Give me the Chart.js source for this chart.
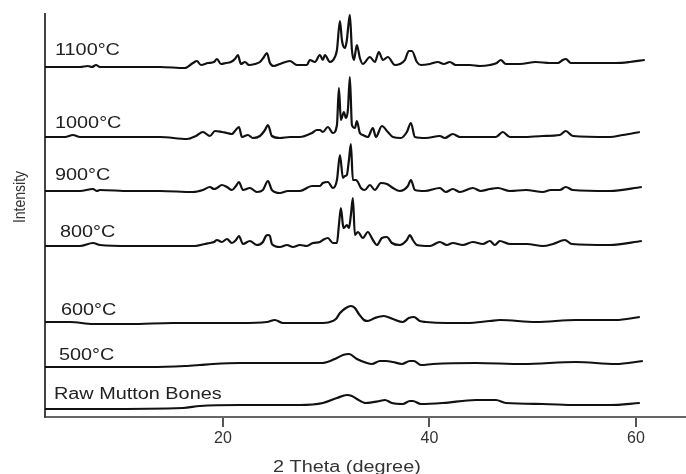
<!DOCTYPE html>
<html>
<head>
<meta charset="utf-8">
<script src="https://cdn.jsdelivr.net/npm/chart.js@4.4.1/dist/chart.umd.min.js"></script>
<style>
  html, body { margin: 0; padding: 0; background: #fff; }
  #wrap { width: 686px; height: 474px; }
</style>
</head>
<body>
<div id="wrap"><canvas id="xrdChart" width="686" height="474"></canvas></div>
<script>
// --- XRD patterns, 2 theta (degree) vs stacked intensity (a.u.) ---
const xTicks = [20, 40, 60];

const theta1100 = [2.77, 6.16, 6.93, 7.32, 7.71, 8.09, 11.0, 13.9, 16.32, 17.1, 17.48, 17.87, 18.55, 19.13, 19.42, 19.81, 20.29, 20.77, 21.16, 21.45, 21.74, 22.13, 22.52, 23.1, 23.58, 23.97, 24.26, 24.55, 24.94, 25.52, 26.49, 27.16, 28.13, 28.42, 28.91, 29.39, 29.68, 29.87, 30.36, 30.84, 31.04, 31.33, 31.52, 31.62, 31.81, 32.0, 32.1, 32.29, 32.49, 32.68, 32.97, 33.26, 33.55, 34.23, 34.71, 35.1, 35.49, 35.97, 36.65, 37.13, 37.62, 38.0, 38.3, 38.78, 39.17, 40.04, 40.81, 41.39, 41.97, 42.55, 43.91, 44.88, 45.85, 46.52, 46.91, 47.39, 48.75, 50.3, 51.66, 52.43, 52.91, 53.2, 53.69, 55.53, 58.04, 59.4, 60.85];
const int1100 = [350, 350, 351, 350, 352, 350, 350, 350, 349, 354, 356, 352, 354, 355, 358, 353, 354, 355, 358, 362, 353, 355, 352, 353, 355, 360, 364, 354, 351, 353, 356, 352, 352, 357, 355, 362, 357, 362, 355, 360, 367, 396, 377, 372, 369, 377, 387, 402, 367, 357, 372, 359, 353, 360, 355, 365, 357, 360, 352, 353, 357, 366, 366, 355, 352, 353, 355, 353, 355, 352, 352, 351, 352, 354, 357, 353, 353, 355, 354, 354, 357, 358, 354, 354, 354, 355, 357];

const theta1000 = [2.77, 4.71, 5.48, 6.16, 10.03, 13.9, 16.52, 17.39, 18.06, 18.74, 19.23, 19.9, 20.39, 20.87, 21.16, 21.55, 21.84, 22.42, 22.9, 23.58, 24.07, 24.36, 24.74, 25.52, 26.49, 27.45, 28.62, 29.1, 29.39, 29.68, 30.16, 30.65, 31.04, 31.23, 31.42, 31.71, 31.91, 32.1, 32.29, 32.49, 32.78, 32.97, 33.26, 33.55, 34.03, 34.52, 34.81, 35.39, 35.97, 36.46, 37.23, 37.81, 38.2, 38.59, 39.65, 41.0, 41.49, 42.26, 42.94, 46.43, 47.1, 47.78, 49.04, 50.98, 52.62, 53.2, 53.88, 57.46, 58.72, 60.37];
const int1000 = [280, 280, 282, 280, 280, 280, 278, 281, 285, 281, 286, 285, 284, 283, 286, 290, 280, 282, 279, 281, 287, 292, 281, 279, 280, 280, 284, 287, 287, 285, 290, 284, 292, 329, 297, 305, 299, 307, 340, 292, 289, 296, 284, 282, 280, 289, 280, 291, 285, 280, 279, 285, 294, 280, 279, 281, 279, 283, 280, 280, 285, 280, 280, 281, 282, 286, 281, 280, 282, 285];

const theta900 = [2.77, 6.16, 7.42, 7.8, 8.09, 11.0, 13.9, 17.1, 18.06, 18.74, 19.13, 19.42, 19.9, 20.39, 20.87, 21.26, 21.55, 21.94, 22.61, 23.29, 23.87, 24.36, 24.74, 25.52, 26.29, 27.45, 28.62, 29.39, 29.68, 30.16, 30.65, 31.04, 31.33, 31.62, 31.81, 32.0, 32.2, 32.39, 32.58, 32.87, 33.07, 33.36, 33.74, 34.23, 34.71, 35.29, 35.88, 36.46, 37.13, 37.91, 38.2, 38.59, 39.55, 41.0, 41.58, 42.26, 42.94, 44.2, 44.97, 45.85, 46.62, 47.78, 49.33, 50.98, 51.75, 52.62, 53.2, 53.88, 57.46, 60.56];
const int900 = [226, 226, 228, 226, 227, 226, 226, 225, 227, 230, 228, 229, 232, 230, 227, 231, 235, 227, 229, 225, 227, 236, 227, 224, 226, 226, 231, 231, 234, 235, 229, 237, 262, 239, 241, 242, 257, 273, 237, 237, 235, 229, 227, 232, 227, 234, 233, 229, 226, 231, 237, 227, 226, 229, 225, 228, 225, 229, 226, 228, 229, 226, 227, 225, 227, 227, 230, 227, 226, 230];

const theta800 = [2.77, 6.16, 7.42, 8.09, 11.0, 13.9, 17.29, 18.26, 18.74, 19.13, 19.42, 19.9, 20.39, 20.87, 21.26, 21.55, 21.94, 22.61, 23.29, 23.87, 24.16, 24.36, 24.55, 24.74, 25.52, 26.2, 26.78, 27.45, 28.13, 28.71, 29.39, 29.68, 30.16, 30.65, 31.04, 31.23, 31.42, 31.62, 31.71, 32.0, 32.2, 32.39, 32.58, 32.78, 33.07, 33.55, 34.03, 34.52, 34.91, 35.39, 35.88, 36.36, 37.13, 37.81, 38.1, 38.39, 38.78, 40.04, 41.0, 41.68, 42.26, 43.23, 44.2, 45.17, 45.85, 46.33, 46.81, 47.78, 49.43, 50.98, 51.95, 53.11, 53.78, 57.46, 60.56];
const int800 = [171, 171, 174, 172, 171, 171, 171, 173, 174, 175, 177, 175, 178, 174, 177, 181, 173, 176, 172, 175, 181, 182, 181, 173, 170, 172, 170, 172, 171, 174, 175, 177, 179, 174, 174, 192, 209, 192, 189, 192, 189, 202, 219, 182, 185, 179, 185, 177, 172, 179, 180, 174, 172, 177, 182, 177, 172, 171, 175, 172, 174, 172, 175, 173, 176, 172, 176, 173, 173, 171, 173, 177, 173, 172, 176];

const theta600 = [2.77, 5.19, 7.42, 11.0, 15.16, 21.65, 24.26, 25.03, 25.81, 27.45, 29.39, 30.36, 30.94, 31.33, 31.91, 32.39, 32.78, 33.16, 33.65, 34.03, 34.71, 35.58, 36.46, 37.42, 38.0, 38.49, 39.07, 39.65, 41.68, 43.62, 45.85, 46.81, 50.3, 54.17, 58.04, 60.37];
const int600 = [95, 95, 93, 93, 94, 94, 95, 97, 94, 94, 94, 95, 98, 104, 109, 111, 109, 103, 97, 96, 99, 101, 98, 95, 99, 100, 96, 95, 94, 94, 96, 97, 95, 97, 97, 100];

const theta500 = [2.77, 8.09, 12.93, 16.32, 17.77, 19.03, 21.65, 24.84, 27.45, 29.68, 31.04, 31.62, 32.2, 32.97, 33.94, 34.42, 35.2, 35.78, 36.46, 37.33, 38.1, 38.49, 39.17, 40.33, 44.49, 49.04, 54.17, 58.04, 60.66];
const int500 = [50, 50, 50, 51, 52, 53, 54, 54, 54, 54, 59, 62, 63, 58, 54, 53, 56, 56, 55, 53, 56, 56, 52, 53, 54, 53, 55, 53, 56];

const thetaRaw = [2.77, 8.09, 16.13, 17.77, 21.65, 27.45, 29.68, 31.04, 32.0, 32.49, 32.97, 33.84, 35.2, 35.68, 36.36, 37.42, 38.1, 38.39, 39.17, 41.29, 44.49, 46.43, 47.39, 50.98, 54.17, 57.46, 60.37];
const intRaw = [8, 8, 9, 11, 12, 12, 14, 19, 22, 21, 18, 14, 16, 17, 14, 13, 16, 16, 13, 14, 17, 17, 14, 13, 12, 12, 14];

const seriesNames = ['1100°C', '1000°C', '900°C', '800°C', '600°C', '500°C', 'Raw Mutton Bones'];
const seriesTheta = [theta1100, theta1000, theta900, theta800, theta600, theta500, thetaRaw];
const seriesInt = [int1100, int1000, int900, int800, int600, int500, intRaw];

// label anchors (left, baseline) in canvas pixels
const labelSpots = [[55, 55], [55, 128], [55, 180], [60, 237], [61, 315], [59, 360], [54, 399]];

const TEXT_STRETCH = 1.24;

function drawStretched(ctx, text, x, y) {
    ctx.save();
    ctx.translate(x, y);
    ctx.scale(TEXT_STRETCH, 1);
    ctx.fillText(text, 0, 0);
    ctx.restore();
}

const textPlugin = {
    id: 'xrdText',
    afterDraw(chart) {
        const ctx = chart.ctx;
        ctx.save();
        ctx.fillStyle = '#222';
        ctx.textBaseline = 'alphabetic';
        ctx.textAlign = 'left';
        ctx.font = '16px "Liberation Sans", Arial, sans-serif';
        seriesNames.forEach((name, i) => {
            drawStretched(ctx, name, labelSpots[i][0], labelSpots[i][1]);
        });

        // x axis title
        ctx.fillStyle = '#333';
        drawStretched(ctx, '2 Theta (degree)', 273, 472);

        // y axis title (rotated)
        ctx.save();
        ctx.translate(20, 197);
        ctx.scale(TEXT_STRETCH, 1);
        ctx.rotate(-Math.PI / 2);
        ctx.textAlign = 'center';
        ctx.textBaseline = 'middle';
        ctx.font = '14px "Liberation Sans", Arial, sans-serif';
        ctx.fillText('Intensity', 0, 0);
        ctx.restore();
        ctx.restore();
    }
};

const datasets = seriesNames.map((name, i) => ({
    label: name,
    data: seriesTheta[i].map((t, j) => ({ x: t, y: seriesInt[i][j] })),
    borderColor: '#111',
    borderWidth: 2.2,
    pointRadius: 0,
    fill: false,
    cubicInterpolationMode: 'monotone'
}));

new Chart(document.getElementById('xrdChart'), {
    type: 'line',
    data: { datasets: datasets },
    options: {
        responsive: false,
        animation: false,
        layout: { padding: { top: 14, left: 0, right: 0, bottom: 0 } },
        plugins: {
            legend: { display: false },
            tooltip: { enabled: false }
        },
        scales: {
            x: {
                type: 'linear',
                min: 2.77,
                max: 64.84,
                afterBuildTicks: (axis) => { axis.ticks = xTicks.map(v => ({ value: v })); },
                afterFit: (axis) => { axis.height = 57; },
                ticks: {
                    color: '#333',
                    padding: 2,
                    font: { family: '"Liberation Sans", Arial, sans-serif', size: 16 }
                },
                grid: { drawOnChartArea: false, drawTicks: true, tickLength: 10, color: '#555', lineWidth: 2 },
                border: { display: true, color: '#666', width: 2 }
            },
            y: {
                min: 0,
                max: 403,
                afterFit: (axis) => { axis.width = 45; },
                ticks: { display: false },
                grid: { display: false },
                border: { display: true, color: '#444', width: 2 }
            }
        }
    },
    plugins: [textPlugin]
});
</script>
</body>
</html>
